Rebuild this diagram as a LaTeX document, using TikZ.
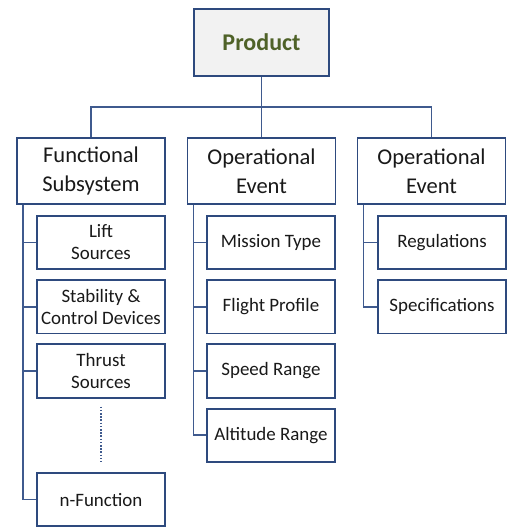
\documentclass[tikz,border=0pt]{standalone}
\usepackage{fontspec}
\setmainfont{Carlito}
\usetikzlibrary{positioning}
\definecolor{navy}{HTML}{2E4A7E}
\definecolor{wire}{HTML}{3F5A8E}
\definecolor{olive}{HTML}{4F6228}
\definecolor{boxgray}{HTML}{F2F2F2}

\begin{document}
\begin{tikzpicture}[x=0.75pt, y=-0.75pt, node distance={6.8pt}, line width=1.4pt,
	top/.style = {draw=navy, fill=boxgray, minimum width=101pt, minimum height=50pt, font=\fontsize{18}{20}\selectfont\bfseries, text=olive},
	main/.style = {draw=navy, fill=white, minimum width=111pt, minimum height=49.5pt, align=center, font=\fontsize{16.9}{21.5}\selectfont, text=black!90},
	leaf/.style = {draw=navy, fill=white, minimum width=96pt, minimum height=40pt, align=center, font=\fontsize{14.2}{16.5}\selectfont, text=black!90},
	link/.style = {draw=wire, line width=1.3pt}]
	\useasboundingbox (0,0) rectangle (509,529);

	\node[top] (1) at (261.5,42.5) {Product};
	\node[main] (2) at (91,171) {Functional\\Subsystem};
	\node[main] (3) at (261.5,171) {Operational\\Event};
	\node[main] (4) at (431.5,171) {Operational\\Event};

	% functional subsystem
	\node[leaf] (5) at (101,242.5) {Lift\\Sources};
	\node[leaf] (6) [below=of 5] {Stability \&\\Control Devices};
	\node[leaf] (7) [below=of 6] {Thrust\\Sources};
	\node[leaf] (8) [below=55pt of 7] {n-Function};

	% operational event
	\node[leaf] (9) at (271,242.5) {Mission Type};
	\node[leaf] (10) [below=of 9] {Flight Profile};
	\node[leaf] (11) [below=of 10] {Speed Range};
	\node[leaf] (12) [below=of 11] {Altitude Range};

	\node[leaf] (13) at (442,242.5) {Regulations};
	\node[leaf] (14) [below=of 13] {Specifications};

	\coordinate (bus) at (261.5,107);
	\draw[link] (1) -- (3);
	\draw[link] (2.north) |- (bus) -| (4.north);

	\draw[link] ([xshift=5.25pt]2.south west) |- (5);
	\draw[link] ([xshift=5.25pt]2.south west) |- (6);
	\draw[link] ([xshift=5.25pt]2.south west) |- (7);
	\draw[link] ([xshift=5.25pt]2.south west) |- (8);
	\draw[link, dash pattern=on 1.2pt off 1.2pt] ([yshift=-6pt]7.south) -- ([yshift=8pt]8.north);

	\draw[link] ([xshift=5.25pt]3.south west) |- (9);
	\draw[link] ([xshift=5.25pt]3.south west) |- (10);
	\draw[link] ([xshift=5.25pt]3.south west) |- (11);
	\draw[link] ([xshift=5.25pt]3.south west) |- (12);

	\draw[link] ([xshift=5.25pt]4.south west) |- (13);
	\draw[link] ([xshift=5.25pt]4.south west) |- (14);
\end{tikzpicture}
\end{document}
